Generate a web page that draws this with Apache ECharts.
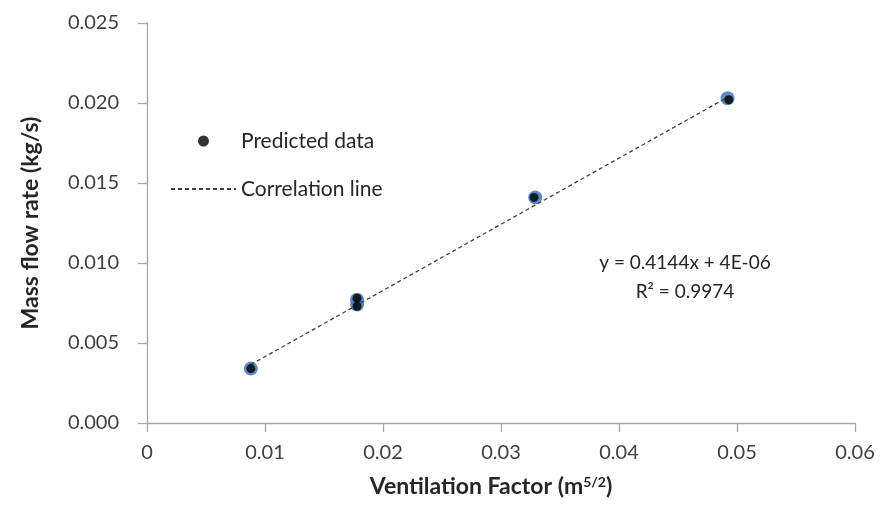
<!DOCTYPE html>
<html>
<head>
<meta charset="utf-8">
<script src="https://cdn.jsdelivr.net/npm/echarts@6/dist/echarts.min.js"></script>
<style>
  html, body { margin: 0; padding: 0; background: #fff; }
  #chart { width: 883px; height: 514px; }
</style>
</head>
<body>
<div id="chart"></div>
<script>
// data
var measured = [[0.0088, 0.0034], [0.0178, 0.0077], [0.0178, 0.0074], [0.0329, 0.0141], [0.0492, 0.0203]];
var predicted = [[0.0088, 0.0034], [0.0178, 0.0078], [0.0178, 0.0073], [0.0328, 0.0141], [0.0493, 0.0202]];
var trendLine = [[0.0088, 0.00365], [0.0493, 0.0204]];
var equationLines = ['y = 0.4144x + 4E-06', 'R\u00b2 = 0.9974'];

var font = 'Lato, "Open Sans", sans-serif';
var axisColor = '#a6a6a6';

var chart = echarts.init(document.getElementById('chart'));
chart.setOption({
  animation: false,
  textStyle: { fontFamily: font },
  grid: { left: 147, right: 28, top: 23, bottom: 91 },
  xAxis: {
    type: 'value', min: 0, max: 0.06, interval: 0.01,
    name: 'Ventilation Factor (m{sup|5/2})',
    nameLocation: 'middle', nameGap: 52,
    nameTextStyle: {
      fontSize: 23, fontWeight: 'bold', color: '#262626', fontFamily: font,
      padding: [0, 20, 0, 0],
      rich: { sup: { fontSize: 14, fontWeight: 'bold', color: '#262626', verticalAlign: 'top', padding: [0, 0, 10, 0] } }
    },
    axisLine: { show: true, lineStyle: { color: axisColor, width: 1.3 } },
    axisTick: { show: true, length: 9, lineStyle: { color: axisColor, width: 1.3 } },
    splitLine: { show: false },
    axisLabel: {
      fontSize: 20, color: '#404040', margin: 20,
      formatter: function (v) { return v === 0 ? '0' : v.toFixed(2); }
    }
  },
  yAxis: {
    type: 'value', min: 0, max: 0.025, interval: 0.005,
    name: 'Mass flow rate (kg/s)',
    nameLocation: 'middle', nameGap: 105,
    nameTextStyle: { fontSize: 23, fontWeight: 'bold', color: '#262626' },
    axisLine: { show: true, lineStyle: { color: axisColor, width: 1.3 } },
    axisTick: { show: true, length: 9, lineStyle: { color: axisColor, width: 1.3 } },
    splitLine: { show: false },
    axisLabel: {
      fontSize: 20, color: '#404040', margin: 28,
      formatter: function (v) { return v.toFixed(3); }
    }
  },
  legend: {
    orient: 'vertical', left: 165, top: 124, itemGap: 24,
    itemWidth: 65, itemHeight: 11,
    data: [
      { name: 'Predicted data' },
      { name: 'Correlation line', itemStyle: { color: 'transparent', borderColor: 'transparent' } }
    ],
    textStyle: { fontSize: 21, color: '#262626', lineHeight: 24 }
  },
  series: [
    {
      name: 'Measured', type: 'scatter', symbol: 'circle', symbolSize: 14,
      itemStyle: { color: '#4a7ebb', opacity: 0.9 },
      data: measured, z: 2
    },
    {
      name: 'Predicted data', type: 'scatter', symbol: 'circle', symbolSize: 9,
      itemStyle: { color: '#000' },
      data: predicted, z: 4
    },
    {
      name: 'Correlation line', type: 'line', symbol: 'none',
      lineStyle: { color: '#404040', width: 1.3, type: [4, 3] },
      itemStyle: { color: '#404040' },
      data: trendLine, z: 3
    }
  ],
  graphic: [{
    type: 'text', x: 685, y: 248,
    style: {
      text: equationLines.join('\n'), align: 'center',
      fontSize: 19, lineHeight: 29, fill: '#262626', fontFamily: font
    }
  }]
});
</script>
</body>
</html>
